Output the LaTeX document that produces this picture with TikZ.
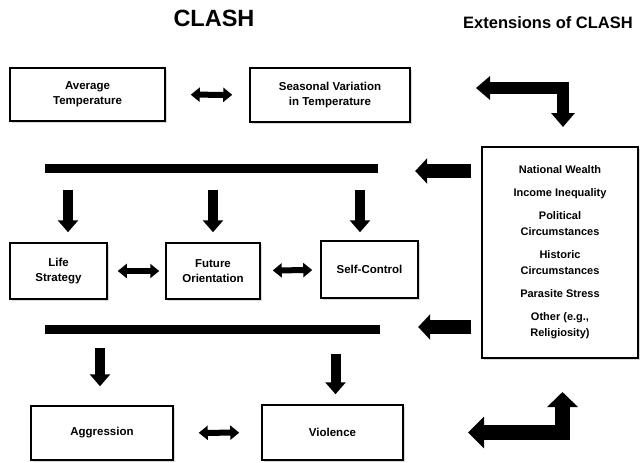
\documentclass[tikz,border=0pt]{standalone}
\usepackage{fontspec}
\setmainfont{Liberation Sans}
\usetikzlibrary{arrows.meta,shadows,calc}

\begin{document}
\begin{tikzpicture}[x=1pt,y=-1pt,
        box/.style={draw, line width=1.5pt, fill=white, align=center, inner sep=0pt,
            font=\fontsize{11.5}{15}\selectfont\bfseries,
            drop shadow={shadow xshift=1.5pt, shadow yshift=-1.5pt, opacity=0.3}},
        bar/.style={fill=black, inner sep=0pt, minimum height=9pt},
        twoway/.style={line width=6pt, {Triangle[width=14pt,length=9pt]}-{Triangle[width=14pt,length=9pt]}},
        dnarrow/.style={line width=10pt, -{Triangle[width=20pt,length=12pt]}},
        feed/.style={line width=14pt, -{Triangle[width=25pt,length=12pt]}}]
    \useasboundingbox (0,0) rectangle (640,463);

    % titles
    \node[font=\fontsize{23.5}{26}\selectfont\bfseries] (clash) at (214,18) {CLASH};
    \node[font=\fontsize{16.5}{18}\selectfont\bfseries] (extitle) at (548,23) {Extensions of CLASH};

    % climate
    \node[box, minimum width=155pt, minimum height=53pt] (avg) at (87.5,94.5) {Average\\Temperature};
    \node[box, minimum width=160pt, minimum height=54pt] (seas) at (330,95) {Seasonal Variation\\in Temperature};
    \draw[twoway, shorten <=25pt, shorten >=17pt] (avg) -- (seas);

    % first bar and the three mediators
    \node[bar, minimum width=333pt] (bar1) at (211.5,168) {};
    \node[box, minimum width=97pt, minimum height=56pt] (life) at (58.5,271) {Life\\Strategy};
    \node[box, minimum width=94pt, minimum height=56pt] (future) at (213,271) {Future\\Orientation};
    \node[box, minimum width=97pt, minimum height=57pt] (self) at (369.5,269.5) {Self-Control};
    \draw[dnarrow] ($(bar1.south -| life.north)+(9.5,17)$) -- ($(life.north)+(9.5,-10)$);
    \draw[dnarrow] ($(bar1.south -| future.north)+(0,17)$) -- ($(future.north)+(0,-10)$);
    \draw[dnarrow] ($(bar1.south -| self.north)+(-9.5,17)$) -- ($(self.north)+(-9.5,-8)$);
    \draw[twoway, shorten <=10pt, shorten >=6pt] (life) -- (future);
    \draw[twoway, shorten <=12pt, shorten >=8pt] (future) -- (self);

    % second bar and outcomes
    \node[bar, minimum width=335pt] (bar2) at (212.5,329) {};
    \node[box, minimum width=142pt, minimum height=54pt] (aggr) at (102,433) {Aggression};
    \node[box, minimum width=141pt, minimum height=55pt] (viol) at (332.5,432.5) {Violence};
    \draw[dnarrow] ($(bar2.south -| aggr.north)+(-2,14)$) -- ($(aggr.north)+(-2,-19)$);
    \draw[dnarrow] ($(bar2.south -| viol.north)+(3,20)$) -- ($(viol.north)+(3,-10)$);
    \draw[twoway, shorten <=25pt, shorten >=22pt] (aggr) -- (viol);

    % extensions
    \node[box, minimum width=156pt, minimum height=211pt,
        font=\fontsize{11}{16}\selectfont\bfseries] (ext) at (560,252.5)
        {National Wealth\\[7pt]Income Inequality\\[7pt]Political\\Circumstances\\[7pt]Historic\\Circumstances\\[7pt]Parasite Stress\\[7pt]Other (e.g.,\\Religiosity)};
    \draw[feed] ($(ext.west |- bar1.east)+(-10,3)$) -- ($(bar1.east)+(37,3)$);
    \draw[feed] ($(ext.west |- bar2.east)+(-10,-2)$) -- ($(bar2.east)+(38,-2)$);

    % bent arrows
    \coordinate (tlhead) at (476,88);
    \coordinate (tdhead) at (563,127);
    \coordinate (blhead) at (468,432.5);
    \coordinate (buhead) at (562.5,392);
    \draw[line width=12pt, {Triangle[width=23pt,length=14pt]}-{Triangle[width=23pt,length=14pt]}] (tlhead) -| (tdhead);
    \draw[line width=15pt, {Triangle[width=31pt,length=16pt]}-{Triangle[width=30pt,length=15pt]}] (blhead) -| (buhead);
\end{tikzpicture}
\end{document}
